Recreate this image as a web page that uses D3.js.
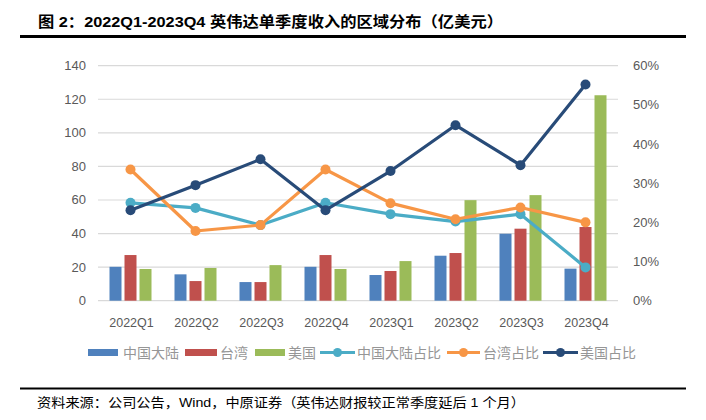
<!DOCTYPE html>
<html><head><meta charset="utf-8">
<script src="https://cdn.jsdelivr.net/npm/d3@7/dist/d3.min.js"></script>
<style>
html,body{margin:0;padding:0;background:#fff;}
svg text{font-family:"Liberation Sans","Noto Sans CJK SC",sans-serif;}
</style></head>
<body>
<svg id="c" width="706" height="420"></svg>
<script>
const categories = ["2022Q1","2022Q2","2022Q3","2022Q4","2023Q1","2023Q2","2023Q3","2023Q4"];
const chinaRev = [20.2,15.7,11.1,20.2,15.3,26.8,39.9,19.1];
const taiwanRev = [27.2,11.7,11.1,27.2,17.7,28.4,42.9,43.9];
const usRev = [18.9,19.5,21.2,18.9,23.6,59.9,62.9,122.4];
const chinaShare = [25.0,23.7,19.3,25.0,22.1,20.2,22.1,8.5];
const taiwanShare = [33.5,17.8,19.3,33.5,24.9,20.8,23.8,20.0];
const usShare = [23.1,29.5,36.1,23.1,33.1,44.8,34.6,55.2];
const leftTicks = [0,20,40,60,80,100,120,140];
const rightTicks = [0,10,20,30,40,50,60];

const svg = d3.select("#c");
const L=98, R=618, T=65.7, B=300.7;
const x = d3.scaleBand().domain(categories).range([L,R]);
const y = d3.scaleLinear().domain([0,140]).range([B,T]);
const y2 = d3.scaleLinear().domain([0,60]).range([B,T]);

// title
svg.append("text").attr("x",38).attr("y",27).attr("font-size",15).attr("font-weight","bold")
  .attr("fill","#000").attr("textLength",465).attr("lengthAdjust","spacingAndGlyphs")
  .text("图 2：2022Q1-2023Q4 英伟达单季度收入的区域分布（亿美元）");
svg.append("line").attr("x1",20).attr("x2",686).attr("y1",36.5).attr("y2",36.5).attr("stroke","#000").attr("stroke-width",3);

// grid
svg.append("g").selectAll("line").data(leftTicks).join("line")
  .attr("x1",L).attr("x2",R).attr("y1",d=>y(d)).attr("y2",d=>y(d))
  .attr("stroke","#d9d9d9").attr("stroke-width",1.2);

// axis labels
svg.append("g").selectAll("text").data(leftTicks).join("text")
  .attr("x",86).attr("y",d=>y(d)+4.5).attr("text-anchor","end").attr("font-size",13).attr("fill","#595959")
  .text(d=>d);
svg.append("g").selectAll("text").data(rightTicks).join("text")
  .attr("x",633).attr("y",d=>y2(d)+4.5).attr("text-anchor","start").attr("font-size",13).attr("fill","#595959")
  .text(d=>d+"%");
svg.append("g").selectAll("text").data(categories).join("text")
  .attr("x",d=>x(d)+x.bandwidth()/2+1).attr("y",327).attr("text-anchor","middle").attr("font-size",12.5).attr("fill","#595959")
  .text(d=>d);

// bars
const bw=12, gap=3;
const barSeries=[{v:chinaRev,c:"#4f81bd"},{v:taiwanRev,c:"#c0504d"},{v:usRev,c:"#9bbb59"}];
barSeries.forEach((s,i)=>{
  svg.append("g").selectAll("rect").data(categories).join("rect")
    .attr("x",d=>x(d)+x.bandwidth()/2-(bw*1.5+gap)+i*(bw+gap))
    .attr("width",bw)
    .attr("y",(d,j)=>y(s.v[j]))
    .attr("height",(d,j)=>B-y(s.v[j]))
    .attr("fill",s.c);
});

// lines
const lineSeries=[{v:chinaShare,c:"#4bacc6"},{v:taiwanShare,c:"#f79646"},{v:usShare,c:"#284b78"}];
const line=d3.line().x((d,j)=>x(categories[j])+x.bandwidth()/2).y(d=>y2(d));
lineSeries.forEach(s=>{
  svg.append("path").datum(s.v).attr("d",line).attr("fill","none").attr("stroke",s.c).attr("stroke-width",3.2).attr("stroke-linejoin","round");
  svg.append("g").selectAll("circle").data(s.v).join("circle")
    .attr("cx",(d,j)=>x(categories[j])+x.bandwidth()/2).attr("cy",d=>y2(d)).attr("r",5).attr("fill",s.c);
});

// legend
const ly=352.5;
const legend=[
  {t:"中国大陆",c:"#4f81bd",type:"bar",x:88,w:30,tx:123},
  {t:"台湾",c:"#c0504d",type:"bar",x:185,w:32,tx:220},
  {t:"美国",c:"#9bbb59",type:"bar",x:255,w:30,tx:288},
  {t:"中国大陆占比",c:"#4bacc6",type:"line",x:320,w:35,tx:357},
  {t:"台湾占比",c:"#f79646",type:"line",x:447,w:33,tx:483},
  {t:"美国占比",c:"#284b78",type:"line",x:543,w:35,tx:580}
];
legend.forEach(l=>{
  if(l.type==="bar"){
    svg.append("rect").attr("x",l.x).attr("y",ly-3.5).attr("width",l.w).attr("height",7).attr("fill",l.c);
  } else {
    svg.append("line").attr("x1",l.x).attr("x2",l.x+l.w).attr("y1",ly).attr("y2",ly).attr("stroke",l.c).attr("stroke-width",3.2);
    svg.append("circle").attr("cx",l.x+l.w/2).attr("cy",ly).attr("r",4.5).attr("fill",l.c);
  }
  svg.append("text").attr("x",l.tx).attr("y",ly+5).attr("font-size",14).attr("fill","#969696").text(l.t);
});

// footer
svg.append("line").attr("x1",20).attr("x2",686).attr("y1",388.5).attr("y2",388.5).attr("stroke","#000").attr("stroke-width",2);
svg.append("text").attr("x",37).attr("y",407).attr("font-size",13).attr("fill","#000")
  .attr("textLength",488).attr("lengthAdjust","spacingAndGlyphs")
  .text("资料来源：公司公告，Wind，中原证券（英伟达财报较正常季度延后 1 个月）");
</script>
</body></html>
